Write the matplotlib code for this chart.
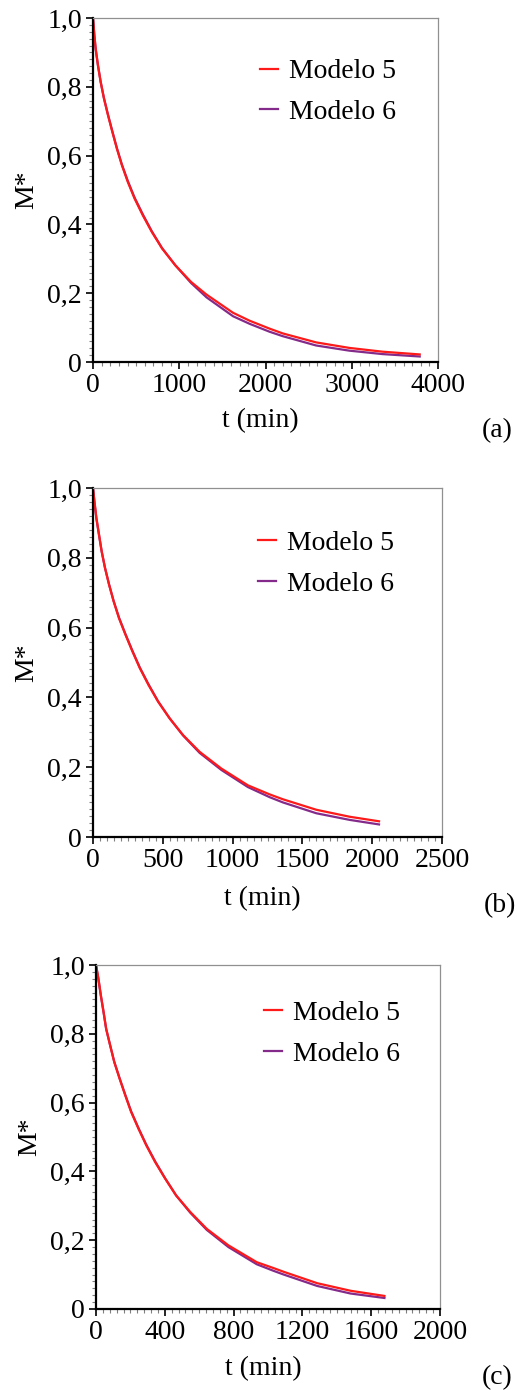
import matplotlib
matplotlib.use("Agg")
import matplotlib.pyplot as plt
from matplotlib.ticker import MultipleLocator, FuncFormatter

plt.rcParams['font.family'] = ['Liberation Serif', 'DejaVu Serif']

# values (t in min, M* dimensionless)
t_a = [0, 16, 31, 58, 89, 127, 174, 224, 277, 335, 404, 482, 578, 682, 801, 955, 1136,
       1316, 1624, 1816, 2047, 2201, 2587, 2971, 3356, 3788]
m5_a = [1.0, 0.950, 0.911, 0.862, 0.814, 0.766, 0.717, 0.669, 0.620, 0.572, 0.523, 0.475,
        0.426, 0.378, 0.330, 0.281, 0.233, 0.196, 0.143, 0.120, 0.097, 0.083, 0.057,
        0.041, 0.030, 0.022]
m6_a = [1.0, 0.948, 0.909, 0.861, 0.814, 0.767, 0.719, 0.671, 0.622, 0.574, 0.526, 0.478,
        0.429, 0.380, 0.331, 0.281, 0.230, 0.188, 0.133, 0.111, 0.088, 0.075, 0.048,
        0.033, 0.023, 0.016]

t_b = [0, 10, 24, 43, 62, 86, 115, 148, 186, 232, 282, 335, 397, 466, 549, 645, 764,
       920, 1110, 1266, 1361, 1600, 1839, 2049]
m5_b = [1.0, 0.963, 0.915, 0.867, 0.819, 0.771, 0.723, 0.675, 0.627, 0.580, 0.532, 0.484,
        0.436, 0.388, 0.340, 0.292, 0.244, 0.196, 0.148, 0.122, 0.108, 0.078, 0.058, 0.045]
m6_b = [1.0, 0.961, 0.913, 0.865, 0.818, 0.771, 0.724, 0.676, 0.629, 0.582, 0.534, 0.486,
        0.438, 0.389, 0.340, 0.291, 0.241, 0.192, 0.143, 0.114, 0.099, 0.068, 0.049, 0.036]

t_c = [0, 14, 28, 44, 59, 82, 106, 137, 170, 204, 247, 292, 344, 402, 466, 548, 644,
       770, 935, 1032, 1092, 1286, 1480, 1677]
m5_c = [1.0, 0.961, 0.913, 0.864, 0.815, 0.767, 0.718, 0.670, 0.621, 0.573, 0.524, 0.476,
        0.427, 0.379, 0.330, 0.282, 0.233, 0.185, 0.136, 0.119, 0.108, 0.075, 0.053, 0.038]
m6_c = [1.0, 0.959, 0.911, 0.862, 0.814, 0.767, 0.719, 0.671, 0.623, 0.575, 0.526, 0.478,
        0.429, 0.380, 0.330, 0.280, 0.230, 0.180, 0.130, 0.111, 0.100, 0.067, 0.045, 0.032]

labels = ['Modelo 5', 'Modelo 6']
panel_tags = ['(a)', '(b)', '(c)']
xmax = [4000, 2500, 2000]
xmajor = [1000, 500, 400]
xminor = [100, 50, 40]

RED = '#ff1a1a'
PURPLE = '#832a8a'
FS = 20

W, H = 517, 1390
fig = plt.figure(figsize=(W / 100, H / 100), dpi=100)

# axes boxes in pixels: left, top, right, bottom
boxes = [(93, 18, 438, 362), (93, 488, 442, 837), (96, 965, 440, 1309)]
legend_pos = [(0.484, 0.881), (0.472, 0.878), (0.488, 0.896)]
xlab_y = [421, 899, 1369]
tag_xy = [(497, 431), (500, 906), (497, 1378)]
ylab_x = [27, 27, 30]

data = [(t_a, m5_a, m6_a), (t_b, m5_b, m6_b), (t_c, m5_c, m6_c)]

for i, (t, m5, m6) in enumerate(data):
    l, tp, r, b = boxes[i]
    ax = fig.add_axes([l / W, 1 - b / H, (r - l) / W, (b - tp) / H])
    p6, = ax.plot(t, m6, color=PURPLE, lw=1.6, label=labels[1])
    p5, = ax.plot(t, m5, color=RED, lw=1.6, label=labels[0])
    ax.set_xlim(0, xmax[i])
    ax.set_ylim(0, 1.0)

    ax.xaxis.set_major_locator(MultipleLocator(xmajor[i]))
    ax.xaxis.set_minor_locator(MultipleLocator(xminor[i]))
    ax.yaxis.set_major_locator(MultipleLocator(0.2))
    ax.yaxis.set_minor_locator(MultipleLocator(0.02))
    ax.yaxis.set_major_formatter(FuncFormatter(
        lambda v, p: '0' if abs(v) < 1e-9 else ('%.1f' % v).replace('.', ',')))

    for s in ['left', 'bottom']:
        ax.spines[s].set_color('black')
        ax.spines[s].set_linewidth(1.6)
    for s in ['top', 'right']:
        ax.spines[s].set_color('#909090')
        ax.spines[s].set_linewidth(0.9)

    ax.tick_params(which='major', direction='out', length=5, width=1.2,
                   color='black', labelsize=FS, pad=3, top=False, right=False)
    ax.tick_params(which='minor', direction='out', length=3, width=0.8,
                   color='#808080', top=False, right=False)

    ax.legend(handles=[p5, p6], loc='upper left', bbox_to_anchor=legend_pos[i],
              frameon=False, fontsize=FS, handlelength=0.65, handletextpad=0.4,
              labelspacing=0.55, borderpad=0, borderaxespad=0)

    fig.text(ylab_x[i] / W, 1 - ((tp + b) / 2) / H, 'M*', rotation=90,
             ha='center', va='center', fontsize=FS)
    fig.text(((l + r) / 2 - 5) / W, 1 - xlab_y[i] / H, 't (min)',
             ha='center', va='center', fontsize=FS)
    fig.text(tag_xy[i][0] / W, 1 - tag_xy[i][1] / H, panel_tags[i],
             ha='center', va='center', fontsize=FS)

fig.savefig('out.png', dpi=100, facecolor='white')
